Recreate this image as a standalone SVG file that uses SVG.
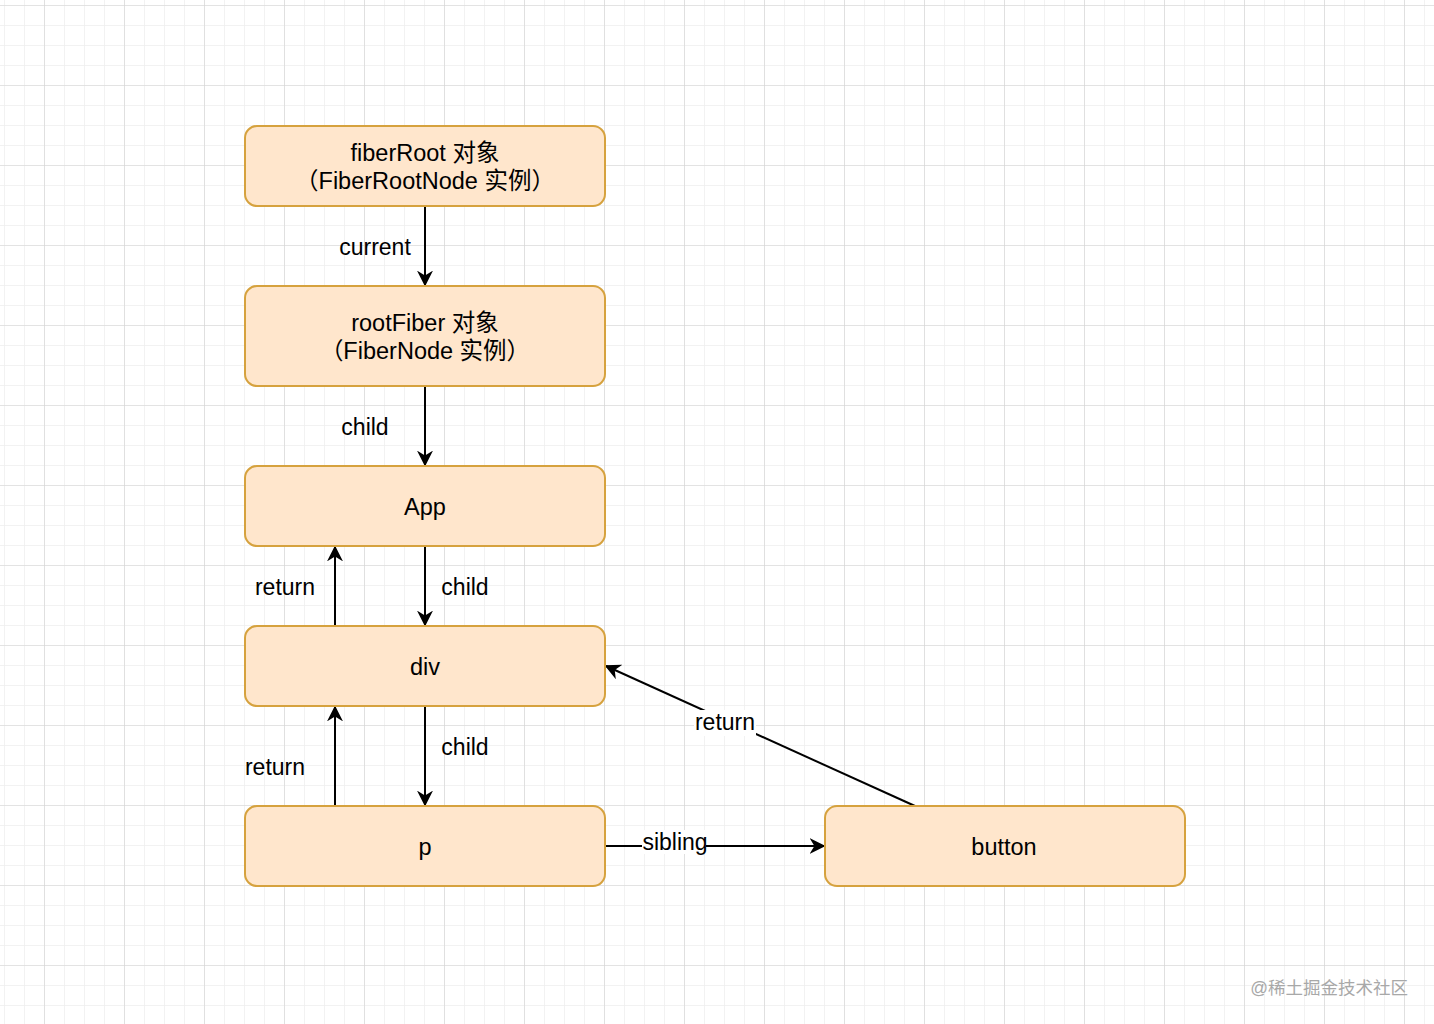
<svg xmlns="http://www.w3.org/2000/svg" width="1434" height="1024" viewBox="0 0 1434 1024">
<style>
.node rect{fill:#FFE6CC;stroke:#D6A23E;stroke-width:2}
text{font-family:"Liberation Sans","Noto Sans CJK SC",sans-serif;fill:#000}
.nt{font-size:23.5px;text-anchor:middle}
.lb{font-size:23px;text-anchor:middle}
.edge{stroke:#000;stroke-width:2;fill:none}
</style>
<defs>
<pattern id="minor" width="20" height="20" patternUnits="userSpaceOnUse" x="4" y="5">
<path d="M0 0H20M0 0V20" stroke="#eeeeee" stroke-width="1.5" fill="none"/>
</pattern>
<pattern id="major" width="80" height="80" patternUnits="userSpaceOnUse" x="44" y="5">
<path d="M0 0H80M0 0V80" stroke="#d4d4d4" stroke-width="1.2" fill="none"/>
</pattern>
<marker id="arrB" viewBox="0 0 10 10" refX="9" refY="5" markerWidth="16" markerHeight="16" markerUnits="userSpaceOnUse" orient="auto">
<path d="M0 0L10 5L0 10L3 5Z" fill="#000"/>
</marker>
</defs>
<rect width="1434" height="1024" fill="#fff"/>
<rect width="1434" height="1024" fill="url(#minor)"/>
<rect width="1434" height="1024" fill="url(#major)"/>
<g id="connectors">
<line class="edge" x1="425" y1="207" x2="425" y2="285" marker-end="url(#arrB)"/>
<line class="edge" x1="425" y1="387" x2="425" y2="465" marker-end="url(#arrB)"/>
<line class="edge" x1="425" y1="547" x2="425" y2="625" marker-end="url(#arrB)"/>
<line class="edge" x1="335" y1="625" x2="335" y2="547" marker-end="url(#arrB)"/>
<line class="edge" x1="425" y1="707" x2="425" y2="805" marker-end="url(#arrB)"/>
<line class="edge" x1="335" y1="805" x2="335" y2="707" marker-end="url(#arrB)"/>
<line class="edge" x1="606" y1="846" x2="824" y2="846" marker-end="url(#arrB)"/>
<line class="edge" x1="915" y1="806" x2="606" y2="666" marker-end="url(#arrB)"/>
<rect x="642" y="830" width="64" height="24" fill="#fff"/>
<rect x="694" y="710" width="62" height="26" fill="#fff"/>
<text class="lb" x="375" y="255">current</text>
<text class="lb" x="365" y="435">child</text>
<text class="lb" x="465" y="595">child</text>
<text class="lb" x="285" y="595">return</text>
<text class="lb" x="465" y="755">child</text>
<text class="lb" x="275" y="775">return</text>
<text class="lb" x="675" y="850">sibling</text>
<text class="lb" x="725" y="730">return</text>
</g>
<g id="fiberRoot" class="node">
<rect x="245" y="126" width="360" height="80" rx="12"/>
<text class="nt" x="425" y="161">fiberRoot 对象</text>
<text class="nt" x="425" y="189">（FiberRootNode 实例）</text>
</g>
<g id="rootFiber" class="node">
<rect x="245" y="286" width="360" height="100" rx="12"/>
<text class="nt" x="425" y="331">rootFiber 对象</text>
<text class="nt" x="425" y="359">（FiberNode 实例）</text>
</g>
<g id="App" class="node">
<rect x="245" y="466" width="360" height="80" rx="12"/>
<text class="nt" x="425" y="515">App</text>
</g>
<g id="div" class="node">
<rect x="245" y="626" width="360" height="80" rx="12"/>
<text class="nt" x="425" y="675">div</text>
</g>
<g id="p" class="node">
<rect x="245" y="806" width="360" height="80" rx="12"/>
<text class="nt" x="425" y="855">p</text>
</g>
<g id="button" class="node">
<rect x="825" y="806" width="360" height="80" rx="12"/>
<text class="nt" x="1004" y="855">button</text>
</g>
<text x="1408" y="994" font-size="17.5" text-anchor="end" style="fill:#a8a8a8">@稀土掘金技术社区</text>
</svg>
